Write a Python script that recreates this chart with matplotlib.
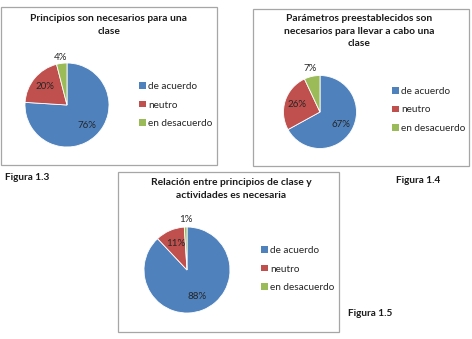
import matplotlib
matplotlib.use("Agg")
import matplotlib.pyplot as plt
from matplotlib.patches import Rectangle, Patch
import numpy as np

plt.rcParams['font.family'] = ['Lato', 'DejaVu Sans']

categories = ["de acuerdo", "neutro", "en desacuerdo"]
titles = ["Principios son necesarios para una\nclase",
          "Parámetros preestablecidos son\nnecesarios para llevar a cabo una\nclase",
          "Relación entre principios de clase y\nactividades es necesaria"]
values_13 = [76, 20, 4]
values_14 = [67, 26, 7]
values_15 = [88, 11, 1]
fig_labels = ["Figura 1.3", "Figura 1.4", "Figura 1.5"]

colors = ["#4F81BD", "#C0504D", "#9BBB59"]
W, H = 472, 339
fig = plt.figure(figsize=(W / 100, H / 100), dpi=100)
fig.patch.set_facecolor("white")


def fx(x):
    return x / W


def fy(y):
    return 1 - y / H


def box(x0, y0, x1, y1):
    fig.patches.append(Rectangle((fx(x0), fy(y1)), fx(x1) - fx(x0), fy(y0) - fy(y1),
                                 transform=fig.transFigure, fill=False,
                                 edgecolor="#A6A6A6", linewidth=0.9))


def pie(values, cx, cy, r, title, tx, ty, lx, ly, inner, outer):
    ax = fig.add_axes([fx(cx - r), fy(cy + r), 2 * r / W, 2 * r / H])
    wedges, _ = ax.pie(values, colors=colors, startangle=90, counterclock=False,
                       wedgeprops=dict(edgecolor="white", linewidth=0.6))
    ax.set_xlim(-1, 1)
    ax.set_ylim(-1, 1)
    ax.set_aspect("equal")
    ax.axis("off")
    for w, v in zip(wedges, values):
        ang = np.deg2rad((w.theta1 + w.theta2) / 2)
        d = inner if v >= 10 else outer
        ax.text(d * np.cos(ang), d * np.sin(ang), f"{v}%", ha="center", va="center",
                fontsize=7, color="#262626")
    fig.text(fx(tx), fy(ty), title, ha="center", va="top", fontsize=7.4,
             fontweight="bold", color="#1a1a1a", linespacing=1.5)
    handles = [Patch(facecolor=c, edgecolor="none") for c in colors]
    fig.legend(handles, categories, loc="upper left", bbox_to_anchor=(fx(lx), fy(ly)),
               frameon=False, fontsize=7.2, handlelength=0.65, handleheight=0.65,
               handletextpad=0.25, labelspacing=0.95, borderpad=0, borderaxespad=0,
               labelcolor="#262626")


box(0.5, 7, 217, 165)
box(253, 9, 469, 166)
box(118, 172, 339, 332)

pie(values_13, 67, 105, 42, titles[0], 109, 14, 139, 82, 0.68, 1.15)
pie(values_14, 320, 112, 36.5, titles[1], 359, 14, 392, 87, 0.66, 1.23)
pie(values_15, 187, 270, 43, titles[2], 231, 178, 261, 246, 0.66, 1.17)

fig.text(fx(5), fy(178), fig_labels[0], ha="left", va="center", fontsize=7.2,
         fontweight="bold", color="#1a1a1a")
fig.text(fx(396), fy(180), fig_labels[1], ha="left", va="center", fontsize=7.2,
         fontweight="bold", color="#1a1a1a")
fig.text(fx(348), fy(313), fig_labels[2], ha="left", va="center", fontsize=7.2,
         fontweight="bold", color="#1a1a1a")

fig.savefig("out.png", dpi=100)
